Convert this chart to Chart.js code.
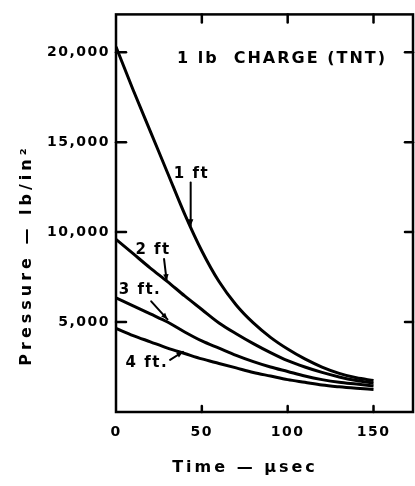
<!DOCTYPE html>
<html><head><meta charset="utf-8">
<script src="https://cdn.jsdelivr.net/npm/chart.js@4/dist/chart.umd.min.js"></script>
<style>html,body{margin:0;padding:0;background:#fff}#wrap{width:415px;height:486px}</style>
</head><body><div id="wrap"><canvas id="c" width="415" height="486"></canvas></div>
<script>
// ---- data ----
const timeUs = [0,10,20,30,40,50,60,70,80,90,100,110,120,130,140,150];
const p1ft = [20300,17900,15600,13300,11000,8950,7250,5950,4950,4150,3500,2950,2500,2150,1900,1750];
const p2ft = [9600,8800,8000,7250,6450,5700,4950,4350,3800,3300,2850,2500,2200,1950,1750,1600];
const p3ft = [6350,5900,5450,5000,4450,3950,3550,3150,2800,2500,2250,2000,1800,1650,1550,1450];
const p4ft = [4650,4250,3900,3550,3250,2950,2700,2450,2200,2000,1800,1650,1500,1400,1320,1250];
const seriesNames = ['1 ft','2 ft','3 ft.','4 ft.'];
const xTicks = [0,50,100,150];
const yTicks = [5000,10000,15000,20000];
const chartTitle = '1 lb  CHARGE (TNT)';
const xTitle = 'Time \u2014 \u03bcsec';
const yTitle = 'Pressure \u2014 lb/in\u00b2';
// curve-label annotations in data units: text centre, arrow start, arrow end
const labelAt   = [[44,13250],[21.6,8980],[14,6770],[18,2730]];
const arrowFrom = [[43.5,12750],[28,8500],[20.5,6150],[31.5,2900]];
const arrowTo   = [[43.5,10350],[29.5,7300],[30,5150],[39,3350]];

const FONT = '"DejaVu Sans", sans-serif';
const allSeries = [p1ft,p2ft,p3ft,p4ft];
const datasets = allSeries.map((arr,i)=>({
  label: seriesNames[i],
  data: timeUs.map((t,j)=>({x:t,y:arr[j]})),
  borderColor:'#000', borderWidth:3, pointRadius:0,
  cubicInterpolationMode:'monotone', fill:false
}));

function setSpacing(chart){ chart.ctx.letterSpacing = '1.5px'; }

const decor = {
  id:'decor',
  beforeLayout(chart){ setSpacing(chart); },
  beforeDraw(chart){
    const c=chart.ctx; c.save(); c.fillStyle='#fff'; c.fillRect(0,0,chart.width,chart.height); c.restore();
    setSpacing(chart);
  },
  afterDatasetsDraw(chart){
    const c=chart.ctx, a=chart.chartArea, xs=chart.scales.x, ys=chart.scales.y;
    c.save();
    c.strokeStyle='#000'; c.lineWidth=2.5; c.lineCap='round';
    c.strokeRect(a.left,a.top,a.right-a.left,a.bottom-a.top);
    yTicks.forEach(v=>{
      const y=ys.getPixelForValue(v);
      c.beginPath(); c.moveTo(a.left,y); c.lineTo(a.left+10,y); c.stroke();
      c.beginPath(); c.moveTo(a.right-8,y); c.lineTo(a.right,y); c.stroke();
    });
    xTicks.filter(v=>v>0).forEach(v=>{
      const x=xs.getPixelForValue(v);
      c.beginPath(); c.moveTo(x,a.top); c.lineTo(x,a.top+8); c.stroke();
      c.beginPath(); c.moveTo(x,a.bottom-6); c.lineTo(x,a.bottom); c.stroke();
    });
    // curve labels and arrows
    c.fillStyle='#000'; c.textAlign='center'; c.textBaseline='middle';
    c.font='bold 15px '+FONT; c.letterSpacing='1.5px';
    seriesNames.forEach((s,i)=>{
      c.fillText(s, xs.getPixelForValue(labelAt[i][0]), ys.getPixelForValue(labelAt[i][1]));
      const x0=xs.getPixelForValue(arrowFrom[i][0]), y0=ys.getPixelForValue(arrowFrom[i][1]);
      const x1=xs.getPixelForValue(arrowTo[i][0]), y1=ys.getPixelForValue(arrowTo[i][1]);
      c.lineWidth=2; c.beginPath(); c.moveTo(x0,y0); c.lineTo(x1,y1); c.stroke();
      const ang=Math.atan2(y1-y0,x1-x0), L=7;
      c.beginPath(); c.moveTo(x1,y1);
      c.lineTo(x1-L*Math.cos(ang-0.4), y1-L*Math.sin(ang-0.4));
      c.lineTo(x1-L*Math.cos(ang+0.4), y1-L*Math.sin(ang+0.4));
      c.closePath(); c.fill();
    });
    // chart title
    c.font='bold 16px '+FONT; c.letterSpacing='2px';
    c.fillText(chartTitle, 282, 59);
    // axis titles
    c.font='bold 16px '+FONT; c.letterSpacing='3px';
    c.fillText(xTitle, 245, 468);
    c.font='bold 16px '+FONT; c.letterSpacing='4px';
    c.translate(27,255); c.rotate(-Math.PI/2);
    c.fillText(yTitle, 0, 0);
    c.restore();
  }
};

new Chart(document.getElementById('c'), {
  type:'line',
  data:{datasets},
  options:{
    responsive:false, animation:false, devicePixelRatio:1,
    layout:{padding:{top:10,right:2,left:0,bottom:0}},
    plugins:{legend:{display:false}, tooltip:{enabled:false}},
    scales:{
      x:{type:'linear', min:0, max:173,
        afterBuildTicks:s=>{s.ticks=xTicks.map(v=>({value:v}));},
        afterFit:s=>{s.height=74;},
        grid:{display:false, drawTicks:false}, border:{display:false},
        ticks:{color:'#000', padding:12, font:{family:FONT,weight:'bold',size:14}, maxRotation:0}
      },
      y:{type:'linear', min:0, max:22100,
        afterBuildTicks:s=>{s.ticks=yTicks.map(v=>({value:v}));},
        afterFit:s=>{s.width=116;},
        grid:{display:false, drawTicks:false}, border:{display:false},
        ticks:{color:'#000', padding:6, font:{family:FONT,weight:'bold',size:14},
          callback:v=>v.toLocaleString('en-US')}
      }
    }
  },
  plugins:[decor]
});
</script></body></html>
